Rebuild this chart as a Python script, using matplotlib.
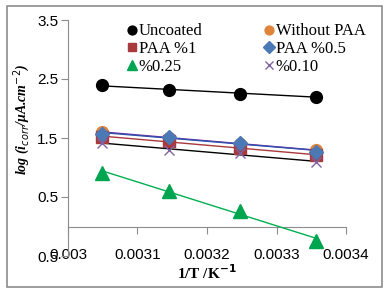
import numpy as np
import matplotlib
matplotlib.use("Agg")
import matplotlib.pyplot as plt
from matplotlib.patches import Rectangle

# 1/T values (K^-1)
inv_T = [0.003049, 0.003145, 0.003247, 0.003357]

# log(i_corr) per coating
uncoated = [2.39, 2.32, 2.25, 2.20]
without_paa = [1.61, 1.50, 1.40, 1.30]
paa_1 = [1.52, 1.45, 1.33, 1.21]
paa_05 = [1.57, 1.52, 1.42, 1.27]
paa_025 = [0.91, 0.61, 0.26, -0.24]
paa_010 = [1.42, 1.29, 1.25, 1.09]

y_ticks = [-0.5, 0.5, 1.5, 2.5, 3.5]
y_tick_labels = ["0.5", "0.5", "1.5", "2.5", "3.5"]
x_ticks = [0.0030, 0.0031, 0.0032, 0.0033, 0.0034]
x_tick_labels = ["0.003", "0.0031", "0.0032", "0.0033", "0.0034"]

series = [
    ("Uncoated", uncoated, "o", "black", "black", 8.5),
    ("Without PAA", without_paa, "o", "#E0843A", "#7030A0", 8.5),
    ("PAA %1", paa_1, "s", "#A8393C", "#A8393C", 8),
    ("PAA %0.5", paa_05, "D", "#4A79B5", "#3050B0", 7.5),
    ("%0.25", paa_025, "^", "#00A550", "#00B050", 10),
    ("%0.10", paa_010, "x", "#8064A2", "black", 7),
]

fig = plt.figure(figsize=(3.88, 2.96), dpi=100)
fig.patches.append(Rectangle((7 / 388, 1 - 287 / 296), 375 / 388, 281 / 296,
                             transform=fig.transFigure, fill=False,
                             edgecolor="#8c8c8c", linewidth=1.2))
ax = fig.add_axes([68 / 388, 1 - 256 / 296, (346 - 68) / 388, (256 - 20) / 296])

x = np.array(inv_T)
handles = {}
for name, vals, mk, col, lcol, ms in series:
    # linear trendline
    p = np.polyfit(x, vals, 1)
    ax.plot([x[0], x[-1]], np.polyval(p, [x[0], x[-1]]), color=lcol, lw=1, zorder=2)
    if mk == "x":
        h, = ax.plot(x, vals, mk, color=col, ms=ms, mew=1, label=name, zorder=3)
    else:
        h, = ax.plot(x, vals, mk, color=col, ms=ms, mec=col, label=name, zorder=3)
    handles[name] = h

ax.set_xlim(0.0030, 0.0034)
ax.set_ylim(-0.5, 3.5)

for s in ["top", "right", "bottom"]:
    ax.spines[s].set_visible(False)
ax.spines["left"].set_color("#8c8c8c")

ax.set_yticks(y_ticks)
ax.set_yticklabels(y_tick_labels, family="Liberation Sans", fontsize=11)
ax.tick_params(axis="y", direction="out", length=5, color="#8c8c8c", pad=2)
ax.set_xticks(x_ticks)
ax.set_xticklabels(x_tick_labels, family="Liberation Sans", fontsize=11)
ax.tick_params(axis="x", length=0, pad=-6)

# horizontal axis line crossing at y = 0
sec = ax.secondary_xaxis(0.125)
sec.set_xticks(x_ticks)
sec.set_xticklabels([])
sec.spines["bottom"].set_color("#8c8c8c")
sec.tick_params(axis="x", direction="out", length=5, color="#8c8c8c")

ax.set_xlabel("1/T /K$^{\\mathbf{-1}}$", family="Liberation Serif",
              fontweight="bold", fontsize=11, labelpad=1)
ax.set_ylabel("log (i$_{corr}$/μA.cm$^{-2}$)", family="Liberation Serif",
              fontweight="bold", style="italic", fontsize=10)
ax.yaxis.set_label_coords(-0.13, 0.58)

# row-wise legend order (matplotlib fills columns first)
order = ["Uncoated", "PAA %1", "%0.25", "Without PAA", "PAA %0.5", "%0.10"]
leg = ax.legend([handles[n] for n in order], order, ncol=2, loc="upper left",
                bbox_to_anchor=(0.17, 1.035), frameon=False,
                prop={"family": "Liberation Serif", "size": 12},
                handlelength=0.6, handletextpad=0.1, columnspacing=3.7,
                labelspacing=0.1, markerscale=0.75, borderpad=0.2)
for h in leg.legend_handles:
    h.set_linestyle("")

fig.savefig("out.png", dpi=100)
